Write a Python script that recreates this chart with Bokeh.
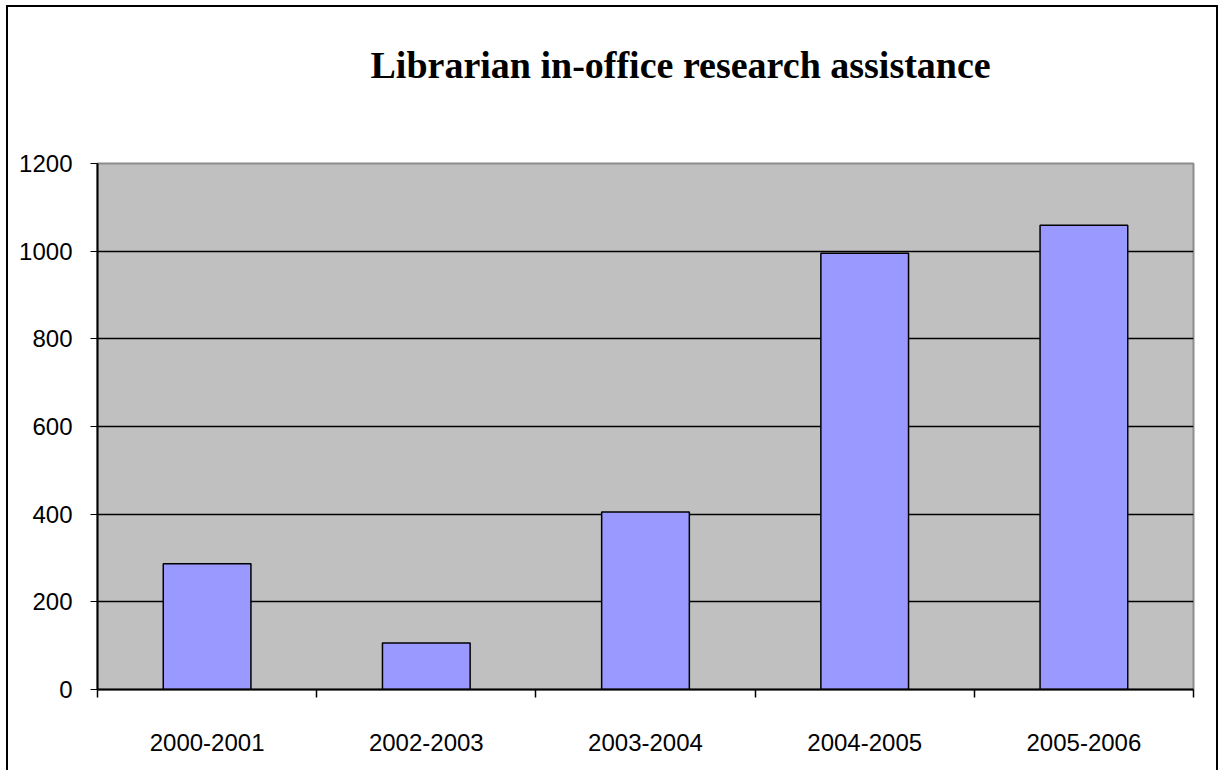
from bokeh.plotting import figure
from bokeh.models import ColumnDataSource, FixedTicker, Range1d, Title
from bokeh.embed import file_html
from bokeh.resources import INLINE

# ---- data ----
categories = ["2000-2001", "2002-2003", "2003-2004", "2004-2005", "2005-2006"]
values = [287, 106, 405, 995, 1059]
y_ticks = [0, 200, 400, 600, 800, 1000, 1200]
title_text = "Librarian in-office research assistance"

centers = [i + 0.5 for i in range(len(categories))]
source = ColumnDataSource(dict(x=centers, top=values, cat=categories))

W, H = 1212, 765
ML, MR, MT, MB = 89, 27, 156, 83
p = figure(
    width=W, height=H,
    x_range=Range1d(0, len(categories)), y_range=Range1d(0, 1200),
    output_backend="svg", toolbar_location=None,
    min_border_left=ML, min_border_right=MR,
    min_border_top=MT, min_border_bottom=MB,
)
p.styles = {"border-left": "2px solid black", "border-top": "2px solid black",
            "border-right": "2px solid black",
            "margin-left": "6px", "margin-top": "5px"}
p.background_fill_color = "#C0C0C0"
p.border_fill_color = "white"
p.outline_line_color = "#8c8c8c"
p.outline_line_width = 2

p.vbar(x="x", top="top", bottom=0, width=0.4, source=source,
       fill_color="#9999FF", line_color="black", line_width=1.5)

# title (a trailing blank line lifts it within its panel)
t = Title(text=title_text + "\n ", align="left", offset=273, standoff=68,
          vertical_align="top",
          text_font="Liberation Serif", text_font_style="bold",
          text_font_size="38px", text_color="black")
p.add_layout(t, "above")

# y axis
p.yaxis.ticker = FixedTicker(ticks=y_ticks)
p.yaxis.axis_line_color = "black"
p.yaxis.axis_line_width = 2
p.yaxis.major_tick_in = 0
p.yaxis.major_tick_out = 7
p.yaxis.major_tick_line_color = "black"
p.yaxis.minor_tick_line_color = None
p.yaxis.major_label_standoff = 18
p.yaxis.major_label_text_font = "Liberation Sans"
p.yaxis.major_label_text_font_size = "24px"
p.yaxis.major_label_text_color = "black"

# x axis: labels at category centres, ticks at boundaries
p.xaxis.ticker = FixedTicker(ticks=centers,
                             minor_ticks=list(range(len(categories) + 1)))
p.xaxis.major_label_overrides = {c: lab for c, lab in zip(centers, categories)}
p.xaxis.axis_line_color = "black"
p.xaxis.axis_line_width = 2
p.xaxis.major_tick_line_color = None
p.xaxis.major_tick_in = 0
p.xaxis.major_tick_out = 0
p.xaxis.minor_tick_in = 0
p.xaxis.minor_tick_out = 8
p.xaxis.minor_tick_line_color = "black"
p.xaxis.minor_tick_line_width = 1.5
p.xaxis.major_label_standoff = 36
p.xaxis.major_label_text_font = "Liberation Sans"
p.xaxis.major_label_text_font_size = "24px"
p.xaxis.major_label_text_color = "black"

# grid
p.xgrid.grid_line_color = None
p.ygrid.ticker = FixedTicker(ticks=y_ticks[1:-1])
p.ygrid.grid_line_color = "black"
p.ygrid.grid_line_width = 1.5

open("out.html", "w").write(file_html(p, INLINE))
